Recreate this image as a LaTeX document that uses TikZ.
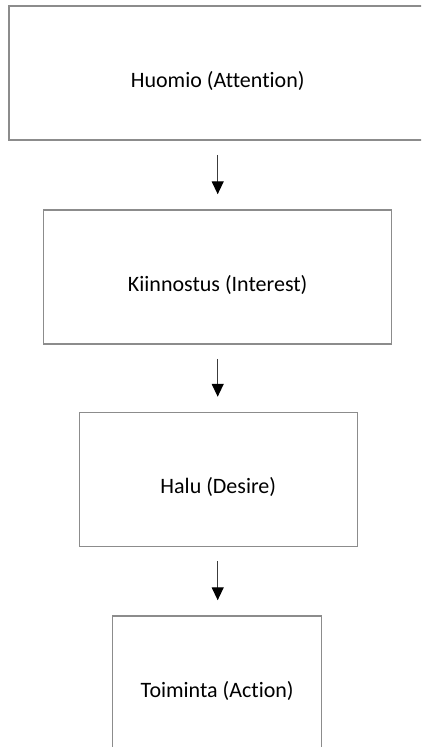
\documentclass[tikz,border=0pt]{standalone}
\usepackage{fontspec}
\setmainfont[Ligatures={NoCommon,NoRare,NoContextual}]{Carlito}
\usetikzlibrary{arrows.meta}
\definecolor{boxgray}{HTML}{8C8C8C}
\definecolor{arrowgray}{HTML}{3C3C3C}
\tikzset{
  stage/.style={draw=boxgray, line width=1.5pt, rectangle, minimum height=134pt,
    inner sep=0pt, text height=28pt, text depth=0pt,
    font=\fontsize{22}{26}\selectfont},
  down/.style={draw=arrowgray, line width=1.3pt, shorten <=14pt, shorten >=15pt,
    -{Triangle[length=13pt,width=12pt,color=black]}}
}
\begin{document}
\begin{tikzpicture}[x=1pt,y=-1pt]
  \useasboundingbox (0,0) rectangle (421,747);
  \clip (0,0) rectangle (421,747);
  \node[stage, minimum width=417pt] (attention) at (217.7,73) {Huomio (Attention)};
  \node[stage, minimum width=348pt] (interest) at (217.7,277) {Kiinnostus (Interest)};
  \node[stage, minimum width=278pt] (desire) at (218.3,479.5) {Halu (Desire)};
  \node[stage, minimum width=209pt] (action) at (217.2,683) {Toiminta (Action)};
  \draw[down] (attention.south -| 217.7,0) -- (interest.north -| 217.7,0);
  \draw[down] (interest.south -| 217.7,0) -- (desire.north -| 217.7,0);
  \draw[down] (desire.south -| 217.7,0) -- (action.north -| 217.7,0);
\end{tikzpicture}
\end{document}
